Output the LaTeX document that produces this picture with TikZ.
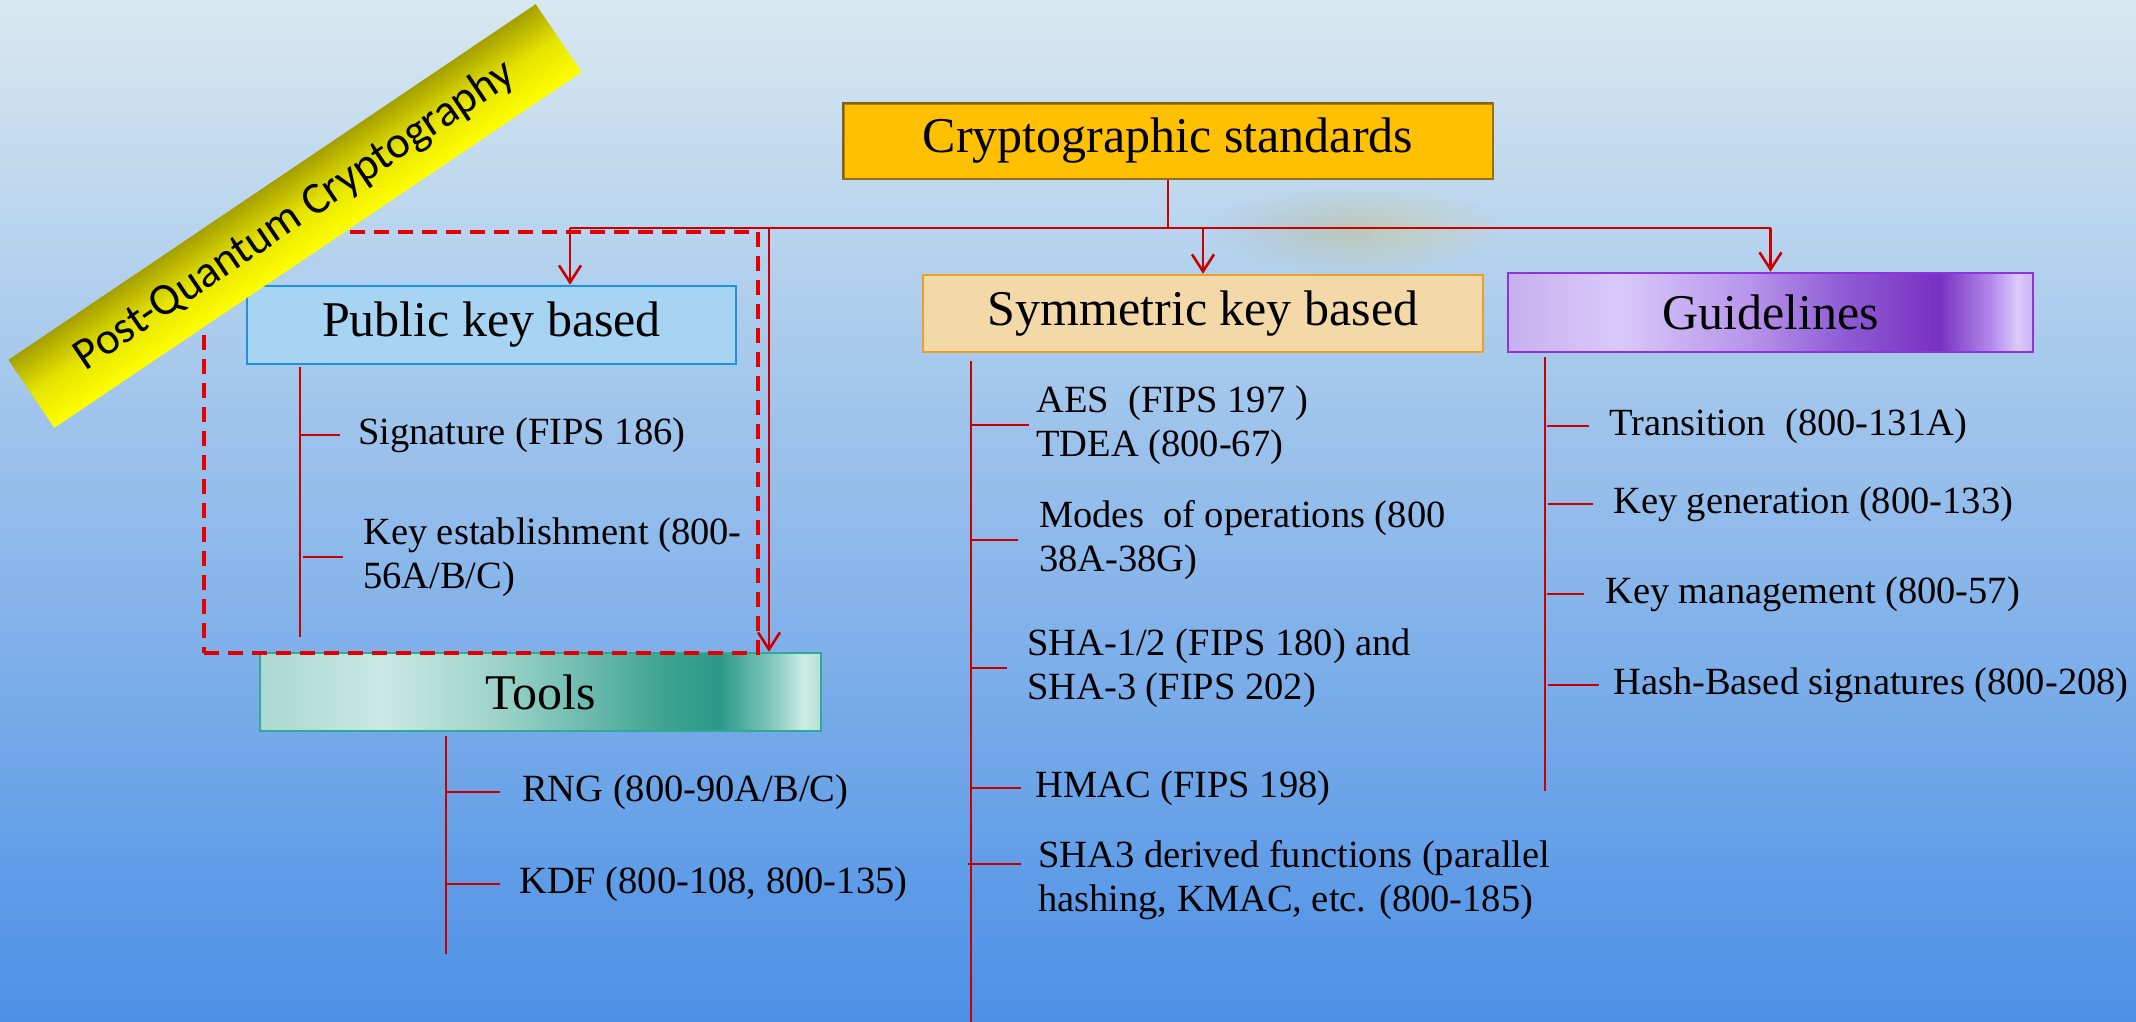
\documentclass[tikz,border=0pt]{standalone}
\usepackage{fontspec}
\setmainfont{Liberation Serif}
\newfontfamily\bannerfont{Carlito}
\usetikzlibrary{arrows.meta,fadings,shadings}
\definecolor{connred}{RGB}{200,0,0}
\definecolor{dashred}{RGB}{228,0,0}
\definecolor{bgtop}{RGB}{216,232,240}
\definecolor{bgmid}{RGB}{140,188,238}
\definecolor{bgbot}{RGB}{76,144,230}
\definecolor{rootfill}{RGB}{255,192,0}
\definecolor{rootedge}{RGB}{150,110,20}
\definecolor{pubfill}{RGB}{168,212,243}
\definecolor{pubedge}{RGB}{30,144,230}
\definecolor{symfill}{RGB}{243,217,168}
\definecolor{symedge}{RGB}{232,160,40}
\definecolor{guideedge}{RGB}{145,50,225}
\definecolor{toolsedge}{RGB}{50,168,152}
\definecolor{bannerdark}{RGB}{165,160,0}
\definecolor{bannerlight}{RGB}{255,255,0}
\definecolor{smudgeL}{RGB}{168,186,188}
\definecolor{smudgeR}{RGB}{212,208,140}
\pgfdeclarehorizontalshading{toolsshade}{100bp}{%
 rgb(0bp)=(0.67,0.85,0.82); rgb(25bp)=(0.67,0.85,0.82); rgb(36bp)=(0.79,0.91,0.89);
 rgb(46bp)=(0.62,0.83,0.79); rgb(55bp)=(0.40,0.72,0.67); rgb(61bp)=(0.24,0.64,0.57);
 rgb(66bp)=(0.17,0.60,0.54); rgb(70.5bp)=(0.50,0.78,0.73); rgb(73.5bp)=(0.80,0.93,0.90);
 rgb(75bp)=(0.70,0.87,0.84); rgb(100bp)=(0.70,0.87,0.84)}
\pgfdeclarehorizontalshading{guideshade}{100bp}{%
 rgb(0bp)=(0.78,0.69,0.94); rgb(25bp)=(0.78,0.69,0.94); rgb(35.5bp)=(0.85,0.79,0.98);
 rgb(48bp)=(0.72,0.58,0.92); rgb(57bp)=(0.56,0.36,0.83); rgb(66bp)=(0.47,0.19,0.76);
 rgb(71bp)=(0.70,0.54,0.92); rgb(73.5bp)=(0.86,0.79,0.99); rgb(75bp)=(0.80,0.71,0.96);
 rgb(100bp)=(0.80,0.71,0.96)}
\tikzfading[name=smudgefade, inner color=transparent!30, outer color=transparent!100]
\begin{document}
\begin{tikzpicture}[x=1pt,y=-1pt,
  hdr/.style={draw, line width=2.5pt, inner sep=0pt, font=\fontsize{50}{56}\selectfont},
  item/.style={anchor=west, inner sep=0pt, align=left, font=\fontsize{38.5}{44}\selectfont},
  conn/.style={draw=connred, line width=2.6pt},
  thinconn/.style={draw=connred, line width=1.3pt},
  arr/.style={conn, -{Straight Barb[length=17pt,width=22pt]}},
  banner/.style={inner sep=0pt, top color=bannerdark, bottom color=bannerlight,
    middle color=bannerlight!72!bannerdark, font=\bannerfont\fontsize{45}{50}\selectfont},
  pqcframe/.style={draw=dashred, line width=4.5pt, dash pattern=on 15pt off 9pt}
]
% background
\shade[top color=bgtop, middle color=bgmid, bottom color=bgbot] (0,0) rectangle (2136,1022);
\useasboundingbox (0,0) rectangle (2136,1022);

% blurred smudge
\shade[left color=smudgeL, right color=smudgeR, path fading=smudgefade] (1205,185) rectangle (1500,275);

% header boxes
\node[hdr, draw=rootedge, fill=rootfill, minimum width=650pt, minimum height=76pt] (root) at (1168,141) {Cryptographic standards};
\draw[line width=3pt, draw=rootedge!80!black, opacity=0.6] ([xshift=2pt,yshift=2pt]root.south west) |- ([xshift=-2pt,yshift=-2pt]root.north east);
\node[hdr, draw=pubedge, fill=pubfill, minimum width=489pt, minimum height=78pt] (pub) at (491.5,325) {Public key based};
\node[hdr, draw=symedge, fill=symfill, minimum width=560pt, minimum height=77pt] (sym) at (1203,313.5) {Symmetric key based};
\node[hdr, draw=guideedge, shading=guideshade, minimum width=525pt, minimum height=79pt] (guide) at (1770.5,312.5) {Guidelines};
\node[hdr, draw=toolsedge, shading=toolsshade, minimum width=561pt, minimum height=78pt] (tools) at (540.5,692) {Tools};

% bus and arrows
\coordinate (bA) at (570,228);
\coordinate (bD) at (769,228);
\coordinate (bE) at (1771,228);
\draw[conn] (root.south) -- (root.south |- bA);
\draw[conn] (bA) -- (bE);
\draw[arr] (bA) -- (bA |- pub.north);
\draw[arr] (sym.north |- bA) -- (sym.north);
\draw[arr] (guide.north |- bA) -- (guide.north);
\draw[arr] (bD) -- (bD |- tools.north);

% public key items
\coordinate (pT) at (300,367);
\coordinate (pB) at (300,637);
\draw[conn] (pT) -- (pB);
\node[item] (sig) at (358,435) {Signature (FIPS 186)};
\node[item] (kest) at (363,557) {Key establishment (800-\\56A/B/C)};
\draw[conn] (pT |- sig.west) -- ([xshift=-18pt]sig.west);
\draw[conn] ([xshift=3pt]pT |- kest.west) -- ([xshift=-20pt]kest.west);

% tools items
\coordinate (tT) at (446,736);
\coordinate (tB) at (446,954);
\draw[conn] (tT) -- (tB);
\node[item] (rng) at (522,792) {RNG (800-90A/B/C)};
\node[item] (kdf) at (519,884) {KDF (800-108, 800-135)};
\draw[conn] (tT |- rng.west) -- ([xshift=-22pt]rng.west);
\draw[conn] (tT |- kdf.west) -- ([xshift=-19pt]kdf.west);

% symmetric items
\coordinate (sT) at (971,361);
\coordinate (sB) at (971,1030);
\draw[conn] (sT) -- (sB);
\node[item] (aes) at (1036,425) {AES\ \ (FIPS 197 )\\TDEA (800-67)};
\node[item] (modes) at (1039,540) {Modes\ \ of operations (800\\38A-38G)};
\node[item] (sha) at (1027,668) {SHA-1/2 (FIPS 180) and\\SHA-3 (FIPS 202)};
\node[item] (hmac) at (1035,788) {HMAC (FIPS 198)};
\node[item] (shad) at (1038,880) {SHA3 derived functions (parallel\\hashing, KMAC, etc. (800-185)};
\path ([yshift=16pt]shad.west) coordinate (shadt);
\draw[conn] (sT |- aes.west) -- ([xshift=-7pt]aes.west);
\draw[conn] (sT |- modes.west) -- ([xshift=-21pt]modes.west);
\draw[conn] (sT |- sha.west) -- ([xshift=-20pt]sha.west);
\draw[conn] (sT |- hmac.west) -- ([xshift=-14pt]hmac.west);
\draw[conn] ([xshift=-3pt]sT |- shadt) -- ([xshift=-17pt]shadt);

% guideline items
\coordinate (gT) at (1545,357);
\coordinate (gB) at (1545,791);
\draw[conn] (gT) -- (gB);
\node[item] (trans) at (1609,426) {Transition\ \ (800-131A)};
\node[item] (kgen) at (1613,504) {Key generation (800-133)};
\node[item] (kmgt) at (1605,594) {Key management (800-57)};
\node[item] (hash) at (1613,685) {Hash-Based signatures (800-208)};
\draw[conn] ([xshift=2pt]gT |- trans.west) -- ([xshift=-20pt]trans.west);
\draw[conn] ([xshift=3pt]gT |- kgen.west) -- ([xshift=-20pt]kgen.west);
\draw[conn] ([xshift=2pt]gT |- kmgt.west) -- ([xshift=-21pt]kmgt.west);
\draw[thinconn] ([xshift=3pt]gT |- hash.west) -- ([xshift=-14pt]hash.west);

% post-quantum frame
\node[pqcframe, minimum width=554pt, minimum height=421pt, inner sep=0pt] (pqcbox) at (481,442.5) {};

% banner (canvas-rotated so that its shading turns with it)
\begin{scope}[transform canvas={shift={(295,216)}, rotate=34}]
\node[banner, minimum width=636pt, minimum height=82pt] (pqc) at (0,0) {Post-Quantum Cryptography};
\end{scope}
\end{tikzpicture}
\end{document}
